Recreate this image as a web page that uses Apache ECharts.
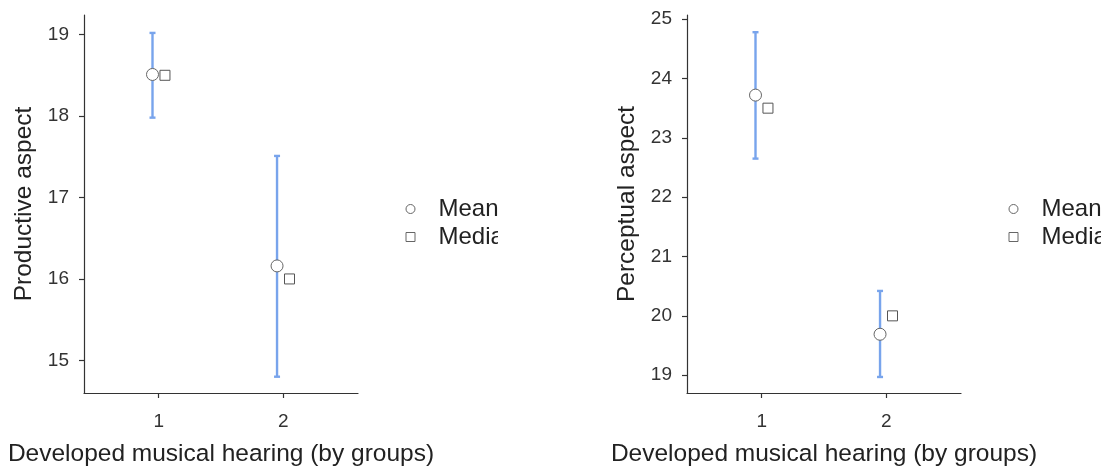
<!DOCTYPE html>
<html>
<head>
<meta charset="utf-8">
<script src="https://cdn.jsdelivr.net/npm/echarts@6/dist/echarts.min.js"></script>
<style>
    html, body { margin: 0; padding: 0; background: #fff; }
    .panel { position: absolute; top: 0; width: 498px; height: 468px; }
    #chart_prod { left: 0; }
    #chart_perc { left: 603px; }
</style>
</head>
<body>
<div id="chart_prod" class="panel"></div>
<div id="chart_perc" class="panel"></div>
<script>
// groups on the x axis
var groups = [1, 2];
var groupTicks = [1, 2];

// productive aspect
var prodMean = [18.51, 16.16];
var prodMedian = [18.5, 16.0];
var prodLow = [17.98, 14.80];
var prodHigh = [19.02, 17.51];
var prodTicks = [15, 16, 17, 18, 19];

// perceptual aspect
var percMean = [23.72, 19.69];
var percMedian = [23.5, 20.0];
var percLow = [22.65, 18.97];
var percHigh = [24.78, 20.42];
var percTicks = [19, 20, 21, 22, 23, 24, 25];

var dodge = 0.05;
var fontFamily = "'Liberation Sans', Arial, sans-serif";
var barColor = '#78a4ec';

var buildOption = function (yName, yMin, yMax, yTicks, means, medians, lows, highs) {
    var meanData = [], medianData = [], barData = [];
    for (var i = 0; i < groups.length; i++) {
        meanData.push([groups[i] - dodge, means[i]]);
        medianData.push([groups[i] + dodge, medians[i]]);
        barData.push([groups[i] - dodge, lows[i], highs[i]]);
    }
    return {
        animation: false,
        backgroundColor: '#fff',
        textStyle: {fontFamily: fontFamily},
        grid: {left: 84, right: 140, top: 15, bottom: 75, containLabel: false, outerBoundsMode: 'none'},
        legend: {
            orient: 'vertical',
            left: 405.5,
            top: 197,
            padding: 0,
            itemWidth: 9,
            itemHeight: 9,
            itemGap: 4,
            data: [{name: 'Mean', icon: 'circle'}, {name: 'Median', icon: 'rect'}],
            itemStyle: {color: '#fff', borderColor: '#666', borderWidth: 1},
            textStyle: {fontFamily: fontFamily, fontSize: 24, color: '#222', lineHeight: 24, padding: [0, 0, 0, 18.5]}
        },
        xAxis: {
            type: 'value',
            min: 0.4,
            max: 2.6,
            name: 'Developed musical hearing (by groups)',
            nameLocation: 'middle',
            nameGap: 49,
            nameTextStyle: {fontFamily: fontFamily, fontSize: 24.5, color: '#222'},
            axisLine: {onZero: false, lineStyle: {color: '#333', width: 1.2}},
            axisTick: {show: true, length: 5, customValues: groupTicks, lineStyle: {color: '#333', width: 1.2}},
            axisLabel: {customValues: groupTicks, margin: 19, fontSize: 19, color: '#333', fontFamily: fontFamily},
            splitLine: {show: false}
        },
        yAxis: {
            type: 'value',
            min: yMin,
            max: yMax,
            name: yName,
            nameLocation: 'middle',
            nameGap: 47,
            nameTextStyle: {fontFamily: fontFamily, fontSize: 24.5, color: '#222'},
            axisLine: {show: true, onZero: false, lineStyle: {color: '#333', width: 1.2}},
            axisTick: {show: true, length: 5, customValues: yTicks, lineStyle: {color: '#333', width: 1.2}},
            axisLabel: {customValues: yTicks, margin: 15, fontSize: 19, color: '#333', fontFamily: fontFamily},
            splitLine: {show: false}
        },
        series: [
            {
                name: 'CI',
                type: 'custom',
                data: barData,
                encode: {x: 0, y: [1, 2]},
                z: 1,
                renderItem: function (params, api) {
                    var x = api.value(0);
                    var lo = api.coord([x, api.value(1)]);
                    var hi = api.coord([x, api.value(2)]);
                    var st = {stroke: barColor, lineWidth: 2.4};
                    return {
                        type: 'group',
                        children: [
                            {type: 'line', shape: {x1: hi[0], y1: hi[1], x2: lo[0], y2: lo[1]}, style: st},
                            {type: 'line', shape: {x1: hi[0] - 3, y1: hi[1], x2: hi[0] + 3, y2: hi[1]}, style: st},
                            {type: 'line', shape: {x1: lo[0] - 3, y1: lo[1], x2: lo[0] + 3, y2: lo[1]}, style: st}
                        ]
                    };
                }
            },
            {
                name: 'Mean',
                type: 'scatter',
                symbol: 'circle',
                symbolSize: 12,
                data: meanData,
                z: 3,
                itemStyle: {color: '#fff', borderColor: '#666', borderWidth: 1, opacity: 1}
            },
            {
                name: 'Median',
                type: 'scatter',
                symbol: 'rect',
                symbolSize: 10,
                data: medianData,
                z: 3,
                itemStyle: {color: '#fff', borderColor: '#555', borderWidth: 1, opacity: 1}
            }
        ]
    };
};

var prodChart = echarts.init(document.getElementById('chart_prod'));
prodChart.setOption(buildOption('Productive aspect', 14.6, 19.24, prodTicks, prodMean, prodMedian, prodLow, prodHigh));

var percChart = echarts.init(document.getElementById('chart_perc'));
percChart.setOption(buildOption('Perceptual aspect', 18.7, 25.07, percTicks, percMean, percMedian, percLow, percHigh));
</script>
</body>
</html>
